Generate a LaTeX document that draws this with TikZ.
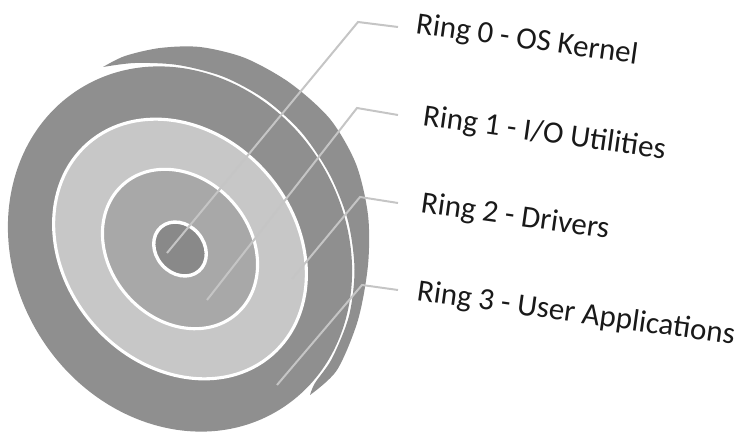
\documentclass[tikz,border=0pt]{standalone}
\usepackage{fontspec}
\setmainfont{Carlito}
\definecolor{ringthree}{RGB}{143,143,143}
\definecolor{ringtwo}{RGB}{199,199,199}
\definecolor{ringone}{RGB}{168,168,168}
\definecolor{ringzero}{RGB}{137,137,137}
\definecolor{leadgray}{RGB}{197,197,197}

\begin{document}
\begin{tikzpicture}[x = 1pt, y = 1pt,
        gap/.style = {white, line width = 1.1mm},
        lead/.style = {leadgray, line width = .7mm},
        ringlbl/.style = {anchor = base west, rotate = -8, inner sep = 0pt, text = black!90, font = \fontsize{31}{36}\selectfont}]
        \useasboundingbox (0, 0) rectangle (742, 432);
        % rim of the disc: outer edge, then back along the front face
        \fill[ringthree] plot[smooth] coordinates {(103, 365) (125, 376) (160, 384) (200, 385) (245, 374) (290, 349) (330, 313) (356, 268) (368, 217) (368, 167) (358, 112) (337, 62) (310, 37)}
            -- plot[smooth] coordinates {(310, 37) (315, 49) (332, 73.5) (349, 116) (354.5, 162.5) (348, 211) (330, 257) (302, 299) (266, 332) (224, 355) (178, 367) (135, 369) (103, 365)} -- cycle;
        % front face
        \fill[ringthree, shift = {(180, 183)}, rotate = -58] (0, 0) ellipse [x radius = 189, y radius = 165];
        % inner rings
        \begin{scope}[shift = {(180, 183)}, rotate = -49]
            \filldraw[gap, fill = ringtwo] (0, 0) ellipse [x radius = 140, y radius = 115];
            \filldraw[gap, fill = ringone] (0, 0) ellipse [x radius = 86, y radius = 70.5];
            \filldraw[gap, fill = ringzero, line width = 1.2mm] (0, 0) ellipse [x radius = 29, y radius = 24];
        \end{scope}
        % leaders
        \coordinate (t0) at (398, 405);
        \coordinate (k0) at (358, 410);
        \coordinate (e0) at (167, 179);
        \coordinate (t1) at (398, 317);
        \coordinate (k1) at (357, 324);
        \coordinate (e1) at (207, 132);
        \coordinate (t2) at (398, 229);
        \coordinate (k2) at (360, 235);
        \coordinate (e2) at (292, 153);
        \coordinate (t3) at (398, 142);
        \coordinate (k3) at (362, 147);
        \coordinate (e3) at (277, 47);
        \draw[lead] (t0) -- (k0) -- (e0);
        \draw[lead] (t1) -- (k1) -- (e1);
        \draw[lead] (t2) -- (k2) -- (e2);
        \draw[lead] (t3) -- (k3) -- (e3);
        \node[ringlbl] (ring0) at (415, 399) {Ring 0 - OS Kernel};
        \node[ringlbl] (ring1) at (422, 307) {Ring 1 - I/O Utilities};
        \node[ringlbl] (ring2) at (420, 220) {Ring 2 - Drivers};
        \node[ringlbl] (ring3) at (416, 132) {Ring 3 - User Applications};
\end{tikzpicture}
\end{document}
